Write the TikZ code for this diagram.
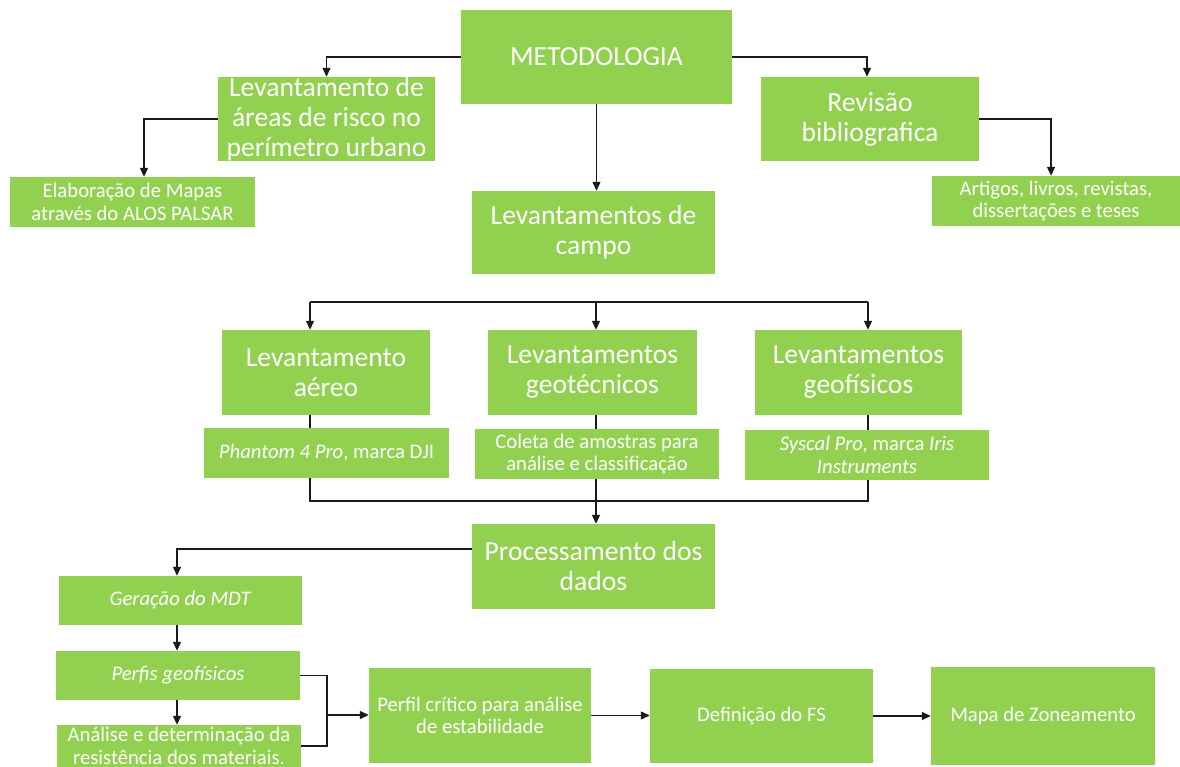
\documentclass[tikz,border=0pt]{standalone}
\usepackage{fontspec}
\setmainfont{Carlito}
\usetikzlibrary{arrows.meta,calc}
\definecolor{boxgreen}{HTML}{92D050}
\definecolor{linecol}{HTML}{1A1A1A}
\tikzset{
  box/.style={fill=boxgreen, text=white, inner sep=0pt, align=center, anchor=center},
  big/.style={font=\fontsize{27.6}{30}\selectfont},
  small/.style={font=\fontsize{20.7}{22.5}\selectfont},
  conn/.style={draw=linecol, line width=1.3pt},
  arr/.style={conn, -{Triangle[length=9pt,width=8pt]}},
}
\begin{document}
\begin{tikzpicture}[x=1pt,y=-1pt]
\useasboundingbox (0,0) rectangle (1180,767);
\clip (0,0) rectangle (1180,767);
\fill[white] (0,0) rectangle (1180,767);

% boxes
\node[box, big, minimum width=271pt, minimum height=94pt] (met) at (596.5,57) {METODOLOGIA};
\node[box, big, minimum width=217pt, minimum height=84pt] (lar) at (326.5,119) {Levantamento de\\áreas de risco no\\perímetro urbano};
\node[box, small, minimum width=245pt, minimum height=50pt] (elab) at (132.5,202) {Elaboração de Mapas\\através do ALOS PALSAR};
\node[box, big, minimum width=218pt, minimum height=84pt] (rev) at (870,119) {Revisão\\bibliografica};
\node[box, small, minimum width=248pt, minimum height=50pt] (art) at (1056,201) {Artigos, livros, revistas,\\dissertações e teses};
\node[box, big, minimum width=243pt, minimum height=83pt] (campo) at (593.5,232.5) {Levantamentos de\\campo};

\node[box, big, minimum width=208pt, minimum height=85pt] (aer) at (326,372.5) {Levantamento\\aéreo};
\node[box, big, minimum width=209pt, minimum height=85pt] (geot) at (592.5,372.5) {Levantamentos\\geotécnicos};
\node[box, big, minimum width=207pt, minimum height=85pt] (geof) at (858.5,372.5) {Levantamentos\\geofísicos};

\node[box, small, minimum width=245pt, minimum height=50pt] (phan) at (326.5,453) {\textit{Phantom 4 Pro}, marca DJI};
\node[box, small, minimum width=244pt, minimum height=50pt] (col) at (597,454) {Coleta de amostras para\\análise e classificação};
\node[box, small, minimum width=244pt, minimum height=50pt] (sys) at (867,455) {\textit{Syscal Pro,} marca \textit{Iris}\\\textit{Instruments}};

\node[box, big, minimum width=243pt, minimum height=85pt] (proc) at (593.5,566.5) {Processamento dos\\dados};

\node[box, small, minimum width=243pt, minimum height=49pt] (ger) at (180.5,600.5) {\textit{Geração do MDT}};
\node[box, small, minimum width=244pt, minimum height=49pt] (perf) at (178,675.5) {\textit{Perfis geofísicos}};
\node[box, small, minimum width=244pt, minimum height=42pt] (anal) at (179,746) {Análise e determinação da\\resistência dos materiais.};

\node[box, small, minimum width=222pt, minimum height=95pt] (crit) at (480,715.5) {Perfil crítico para análise\\de estabilidade};
\node[box, small, minimum width=223pt, minimum height=94pt] (fs) at (761.5,716) {Definição do FS};
\node[box, small, minimum width=224pt, minimum height=98pt] (mapa) at (1043,716) {Mapa de Zoneamento};

% helper coordinates
\coordinate (ca) at (310,302);
\coordinate (cb) at (596,302);
\coordinate (cc) at (868,302);
\coordinate (ja) at (310,501);
\coordinate (jb) at (596,501);
\coordinate (jc) at (868,501);
\coordinate (br) at (327,715);

% connectors top
\draw[arr] (met.west) -| (lar.north);
\draw[arr] (met.east) -| ([xshift=-3pt]rev.north);
\draw[arr] (met.south) -- (met.south |- campo.north);
\draw[arr] (lar.west) -| ([xshift=11.5pt]elab.north);
\draw[arr] (rev.east) -| ([xshift=-5pt]art.north);

% distribution
\draw[conn] (ca) -- (cc);
\draw[arr] (ca) -- (ca |- aer.north);
\draw[arr] (cb) -- (cb |- geot.north);
\draw[arr] (cc) -- (cc |- geof.north);

\draw[conn] (ca |- aer.south) -- (ca |- phan.north);
\draw[conn] (cb |- geot.south) -- (cb |- col.north);
\draw[conn] (cc |- geof.south) -- (cc |- sys.north);

\draw[conn] (ca |- phan.south) -- (ja) -- (jc) -- (cc |- sys.south);
\draw[arr] (cb |- col.south) -- (cb |- proc.north);

% processing branch
\draw[arr] ([yshift=17.5pt]proc.west) -| ([xshift=-3.5pt]ger.north);
\draw[arr] ([xshift=-3.5pt]ger.south) -- ([xshift=-1pt]perf.north);
\draw[arr] ([xshift=-1pt]perf.south) -- ([xshift=-2pt]anal.north);
\draw[conn] (perf.east) -| (br) |- (anal.east);
\draw[arr] (br) -- (br -| crit.west);
\draw[arr] (crit.east) -- (crit.east -| fs.west);
\draw[arr] (fs.east) -- (fs.east -| mapa.west);
\end{tikzpicture}
\end{document}
